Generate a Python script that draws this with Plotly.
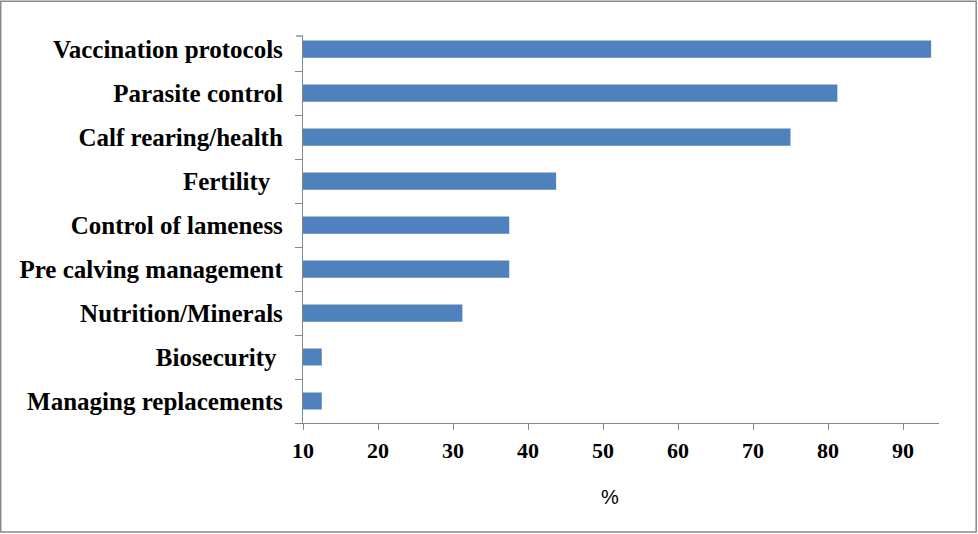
import plotly.graph_objects as go

categories = ["Managing replacements", "Biosecurity\u00a0", "Nutrition/Minerals", "Pre calving management",
              "Control of lameness", "Fertility\u00a0\u00a0", "Calf rearing/health", "Parasite control",
              "Vaccination protocols"]
values = [12.5, 12.5, 31.25, 37.5, 37.5, 43.75, 75.0, 81.25, 93.75]
x_ticks = [10, 20, 30, 40, 50, 60, 70, 80, 90]

W, H = 978, 534
L, R, T, B = 303.3, 38.7, 35.7, 110.7
pw, ph = W - L - R, H - T - B

fig = go.Figure(go.Bar(
    y=categories, x=values, orientation="h",
    marker=dict(color="#4F81BD", line=dict(width=0)),
    width=0.39,
))

axis_col = "#868686"
fig.update_layout(
    width=W, height=H,
    margin=dict(l=L, r=R, t=T, b=B, pad=0),
    paper_bgcolor="white", plot_bgcolor="white",
    showlegend=False,
    xaxis=dict(
        range=[10, 94.8], tickvals=x_ticks, showgrid=False, zeroline=False,
        showline=True, linecolor=axis_col, linewidth=1.3,
        ticks="outside", ticklen=6, tickcolor=axis_col, tickwidth=1.3,
        tickfont=dict(family="Liberation Serif", size=22, color="black", weight="bold"),
        ticklabelstandoff=1,
    ),
    yaxis=dict(
        range=[-0.5, 8.3], type="category", showgrid=False, zeroline=False,
        showline=True, linecolor=axis_col, linewidth=1.3,
        ticks="outside", ticklen=7, tickcolor=axis_col, tickwidth=1.3,
        tickson="boundaries",
        tickfont=dict(family="Liberation Serif", size=25, color="black", weight="bold"),
        ticklabelstandoff=14,
    ),
    annotations=[dict(
        text="%", x=(610 - L) / pw, y=(H - B - 497) / ph, xref="paper", yref="paper",
        xanchor="center", yanchor="middle",
        showarrow=False, font=dict(family="Liberation Sans", size=20, color="black"),
    )],
    shapes=[
        dict(type="line", xref="paper", yref="paper", x0=-7 / pw, x1=0, y0=1, y1=1,
             line=dict(color=axis_col, width=1.3)),
        dict(type="rect", xref="paper", yref="paper",
             x0=(1 - L) / pw, x1=(976.5 - L) / pw,
             y0=(H - B - 532.5) / ph, y1=(H - B - 1) / ph,
             line=dict(color="#888888", width=1.5), fillcolor="rgba(0,0,0,0)"),
    ],
)

fig.write_html("out.html", config={"displayModeBar": False})

# remove the browser's default page margin so the figure sits at the window origin
with open("out.html", encoding="utf-8") as f:
    html = f.read()
html = html.replace("<head>", "<head><style>html,body{margin:0;padding:0;overflow:hidden;}</style>", 1)
with open("out.html", "w", encoding="utf-8") as f:
    f.write(html)
